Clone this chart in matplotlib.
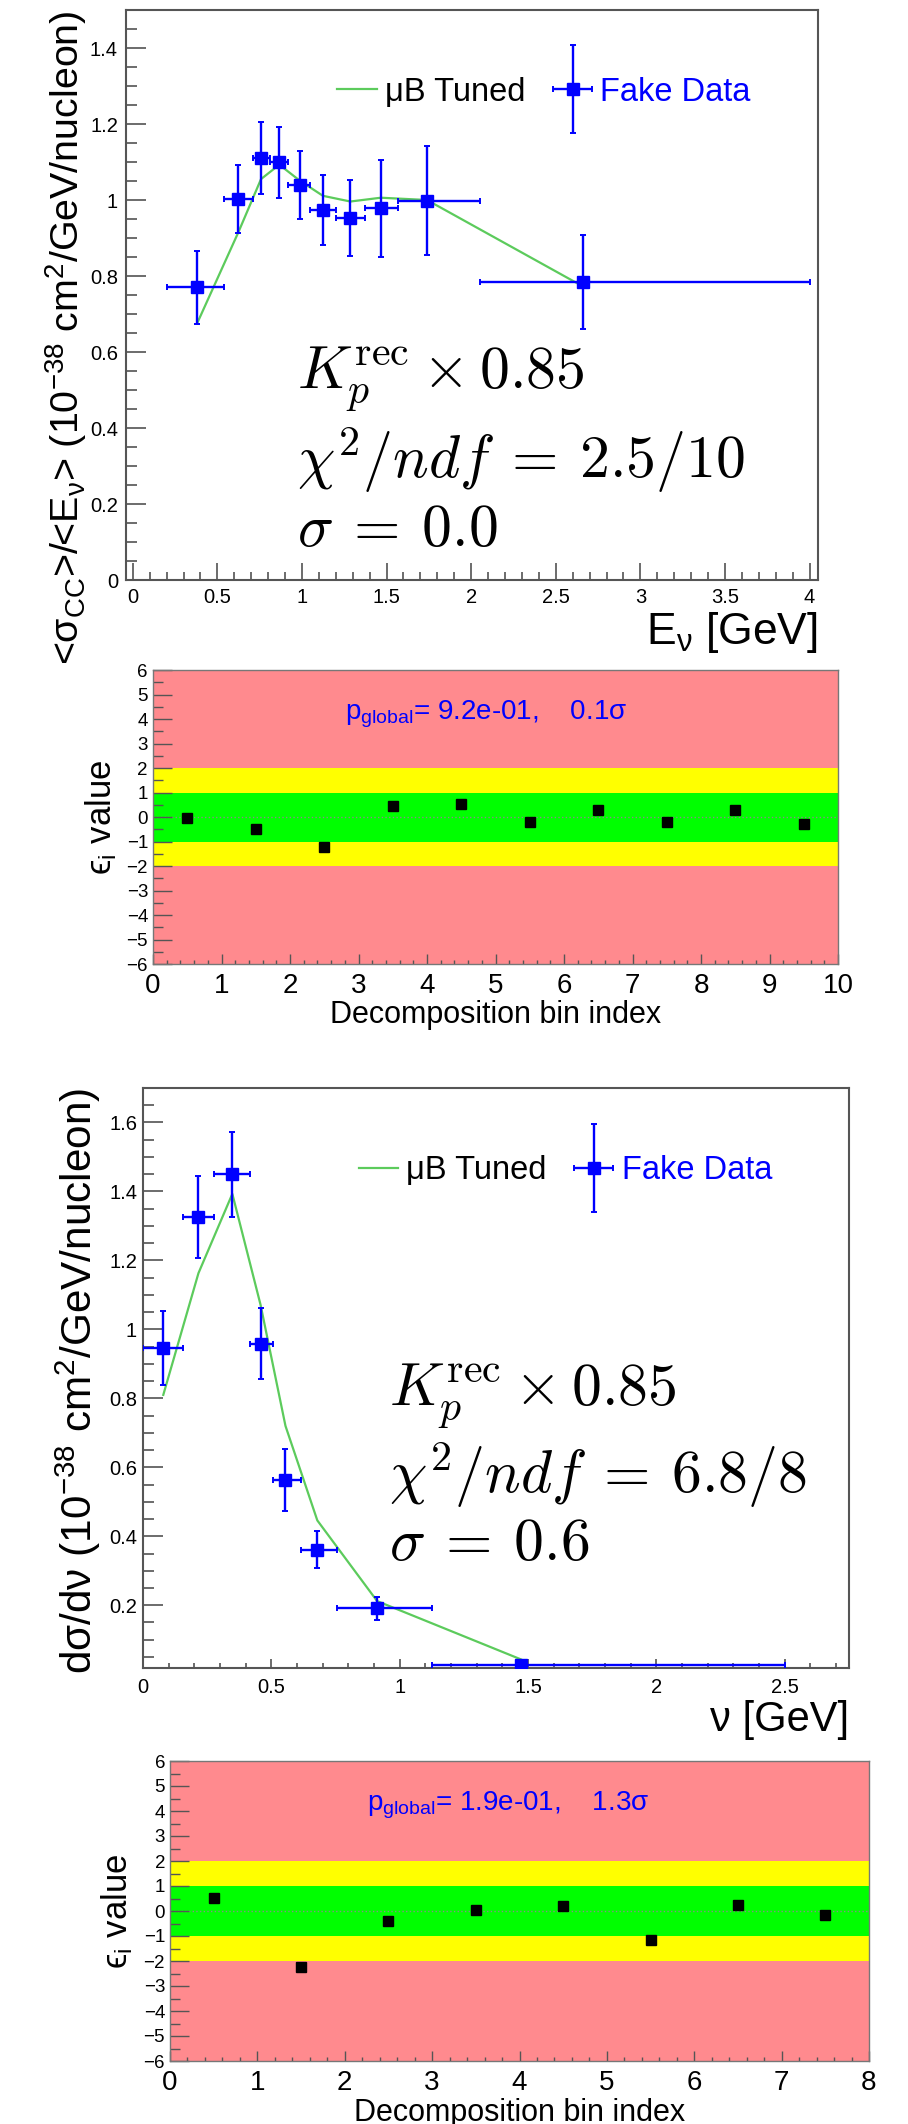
import numpy as np
import matplotlib
matplotlib.use("Agg")
import matplotlib.pyplot as plt
from matplotlib.ticker import MultipleLocator, FuncFormatter
from matplotlib.legend_handler import HandlerErrorbar
from matplotlib.container import ErrorbarContainer

plt.rcParams["font.family"] = ["Liberation Sans", "DejaVu Sans"]
plt.rcParams["mathtext.fontset"] = "custom"
plt.rcParams["mathtext.rm"] = "Liberation Sans"
plt.rcParams["mathtext.it"] = "Liberation Sans:italic"
plt.rcParams["mathtext.bf"] = "Liberation Sans:bold"

BLUE = "#0000ff"
GREEN = "#5ccb5c"
BAND_COLORS = ["#ff8a8e", "#ffff00", "#00ff00"]
BAND_LIMITS = [6, 2, 1]

# --- panel 1: <sigma_CC>/<E_nu> vs E_nu
enu_center = [0.382, 0.624, 0.758, 0.866, 0.987, 1.124, 1.286, 1.466, 1.739, 2.663]
enu_edges = [0.2, 0.54, 0.71, 0.81, 0.92, 1.05, 1.2, 1.375, 1.57, 2.05, 4.0]
enu_data = [0.770, 1.002, 1.111, 1.099, 1.040, 0.974, 0.953, 0.978, 0.998, 0.784]
enu_err = [0.095, 0.090, 0.095, 0.093, 0.090, 0.092, 0.100, 0.128, 0.143, 0.124]
enu_model = [0.677, 0.915, 1.055, 1.093, 1.051, 1.011, 0.996, 1.006, 1.000, 0.772]

# --- panel 3: dsigma/dnu vs nu
nu_center = [0.079, 0.216, 0.348, 0.458, 0.555, 0.679, 0.912, 1.472]
nu_edges = [0.0, 0.155, 0.278, 0.415, 0.505, 0.617, 0.756, 1.126, 2.5]
nu_data = [0.947, 1.326, 1.450, 0.958, 0.562, 0.361, 0.191, 0.028]
nu_err = [0.107, 0.118, 0.123, 0.103, 0.090, 0.053, 0.034, 0.010]
nu_model = [0.810, 1.163, 1.393, 1.071, 0.720, 0.446, 0.212, 0.043]

# --- decomposition pulls
bins1 = [0.5, 1.5, 2.5, 3.5, 4.5, 5.5, 6.5, 7.5, 8.5, 9.5]
pull1 = [-0.05, -0.47, -1.21, 0.45, 0.54, -0.19, 0.27, -0.20, 0.27, -0.29]
bins2 = [0.5, 1.5, 2.5, 3.5, 4.5, 5.5, 6.5, 7.5]
pull2 = [0.53, -2.24, -0.39, 0.03, 0.21, -1.15, 0.24, -0.16]

text_enu = [r"$K_p^{\rm rec}\times 0.85$", r"$\chi^2/ndf\:=\:2.5/10$", r"$\sigma\:=\:0.0$"]
text_nu = [r"$K_p^{\rm rec}\times 0.85$", r"$\chi^2/ndf\:=\:6.8/8$", r"$\sigma\:=\:0.6$"]
pglobal1 = r"p$_{\mathrm{global}}$= 9.2e-01,    0.1σ"
pglobal2 = r"p$_{\mathrm{global}}$= 1.9e-01,    1.3σ"

W, H = 908, 2124
fig = plt.figure(figsize=(W / 100, H / 100), dpi=100)


def box(l, r, t, b):
    return [l / W, 1 - b / H, (r - l) / W, (b - t) / H]


def fmt(v, pos):
    return ("%g" % v).replace("-", "\u2212")


def main_panel(ax, xc, edges, y, yerr, model, xlim, ylim, xlabel, ylabel,
               ylab_x, ylab_size, xlab_y, xlab_size, leg_xy, texts, tx, ty,
               xtick_len, ypad, xpad):
    xc = np.array(xc)
    lo = xc - np.array(edges[:-1])
    hi = np.array(edges[1:]) - xc
    line, = ax.plot(xc, model, color=GREEN, lw=1.6, zorder=2)
    eb = ax.errorbar(xc, y, xerr=[lo, hi], yerr=yerr, fmt="s", color=BLUE,
                     ms=8.5, elinewidth=1.7, capsize=2.5, capthick=1.4, zorder=3)
    ax.set_xlim(*xlim)
    ax.set_ylim(*ylim)
    ax.xaxis.set_major_locator(MultipleLocator(0.5))
    ax.xaxis.set_minor_locator(MultipleLocator(0.1))
    ax.yaxis.set_major_locator(MultipleLocator(0.2))
    ax.yaxis.set_minor_locator(MultipleLocator(0.05))
    ax.xaxis.set_major_formatter(FuncFormatter(fmt))
    ax.yaxis.set_major_formatter(FuncFormatter(fmt))
    ax.tick_params(which="both", direction="in", top=False, right=False,
                   color="#444444", width=1.1)
    ax.tick_params(axis="y", which="major", length=14.5, labelsize=14.5, pad=ypad)
    ax.tick_params(axis="y", which="minor", length=8)
    ax.tick_params(axis="x", which="major", length=xtick_len, labelsize=14.5, pad=xpad)
    ax.tick_params(axis="x", which="minor", length=xtick_len / 2)
    for s in ax.spines.values():
        s.set_color("#555555")
        s.set_linewidth(1.5)
    ax.set_ylabel(ylabel, fontsize=ylab_size, loc="top")
    ax.yaxis.set_label_coords(ylab_x, 1.0)
    ax.set_xlabel(xlabel, fontsize=xlab_size, loc="right")
    ax.xaxis.set_label_coords(1.0, xlab_y)

    leg = ax.legend([line, eb], ["\u03bcB Tuned", "Fake Data"], ncol=2,
                    loc="center left", bbox_to_anchor=leg_xy,
                    bbox_transform=ax.transData, frameon=False, fontsize=23.5,
                    handlelength=1.2, handletextpad=0.25, columnspacing=0.85,
                    borderpad=0, borderaxespad=0,
                    handler_map={ErrorbarContainer: HandlerErrorbar(xerr_size=0.6, yerr_size=1.35)})
    leg.get_texts()[1].set_color(BLUE)

    for s, yy in zip(texts, ty):
        ax.text(tx, yy, s, fontsize=43, math_fontfamily="cm", va="baseline",
                ha="left", zorder=4)


def pull_panel(ax, idx, pulls, nbins, ptext, px, py):
    for lim, c in zip(BAND_LIMITS, BAND_COLORS):
        ax.axhspan(-lim, lim, color=c, lw=0, zorder=0.5)
    ax.axhline(0, color="#8a8a8a", ls=":", lw=1.0, zorder=0.8)
    ax.plot(idx, pulls, "s", color="black", ms=7.5, zorder=3)
    ax.set_xlim(0, nbins)
    ax.set_ylim(-6, 6)
    ax.xaxis.set_major_locator(MultipleLocator(1))
    ax.xaxis.set_minor_locator(MultipleLocator(0.2))
    ax.yaxis.set_major_locator(MultipleLocator(1))
    ax.yaxis.set_minor_locator(MultipleLocator(0.5))
    ax.xaxis.set_major_formatter(FuncFormatter(fmt))
    ax.yaxis.set_major_formatter(FuncFormatter(fmt))
    ax.tick_params(which="both", direction="in", top=False, right=False,
                   color="#555555", width=1.0)
    ax.tick_params(axis="y", which="major", length=13.5, labelsize=13.5, pad=3.6)
    ax.tick_params(axis="y", which="minor", length=7)
    ax.tick_params(axis="x", which="major", length=7, labelsize=20, pad=6.5)
    ax.tick_params(axis="x", which="minor", length=3)
    for s in ax.spines.values():
        s.set_color("#777777")
        s.set_linewidth(1.0)
    ax.set_ylabel("\u03f5$_{\\mathrm{i}}$ value", fontsize=25)
    ax.yaxis.set_label_coords(-0.05, 0.5)
    ax.set_xlabel("Decomposition bin index", fontsize=22)
    ax.xaxis.set_label_coords(0.5, -0.122)
    ax.text(px, py, ptext, color=BLUE, fontsize=20, va="center", ha="left")


ax1 = fig.add_axes(box(126, 818, 10, 580))
main_panel(ax1, enu_center, enu_edges, enu_data, enu_err, enu_model,
           (-0.04, 4.05), (0, 1.5),
           "E$_{\\mathrm{\u03bd}}$ [GeV]",
           "<\u03c3$_{\\mathrm{CC}}$>/<E$_{\\mathrm{\u03bd}}$> (10$^{\\mathrm{-38}}$ cm$^{\\mathrm{2}}$/GeV/nucleon)",
           -0.053, 28.4, -0.053, 32, (1.21, 1.284),
           text_enu, 0.97, [0.505, 0.268, 0.089], 12, 5.8, 5.8)

ax2 = fig.add_axes(box(153, 838, 670, 964))
pull_panel(ax2, bins1, pull1, 10, pglobal1, 2.8, 4.2)

ax3 = fig.add_axes(box(143, 849, 1088, 1668))
main_panel(ax3, nu_center, nu_edges, nu_data, nu_err, nu_model,
           (0, 2.75), (0.018, 1.70),
           "\u03bd [GeV]",
           "d\u03c3/d\u03bd (10$^{\\mathrm{-38}}$ cm$^{\\mathrm{2}}$/GeV/nucleon)",
           -0.057, 30.4, -0.055, 30, (0.84, 1.46),
           text_nu, 0.958, [0.781, 0.526, 0.332], 6.5, 4.3, 7)

ax4 = fig.add_axes(box(170, 869, 1761, 2061))
pull_panel(ax4, bins2, pull2, 8, pglobal2, 2.26, 4.23)

fig.savefig("out.png", dpi=100, facecolor="white")
